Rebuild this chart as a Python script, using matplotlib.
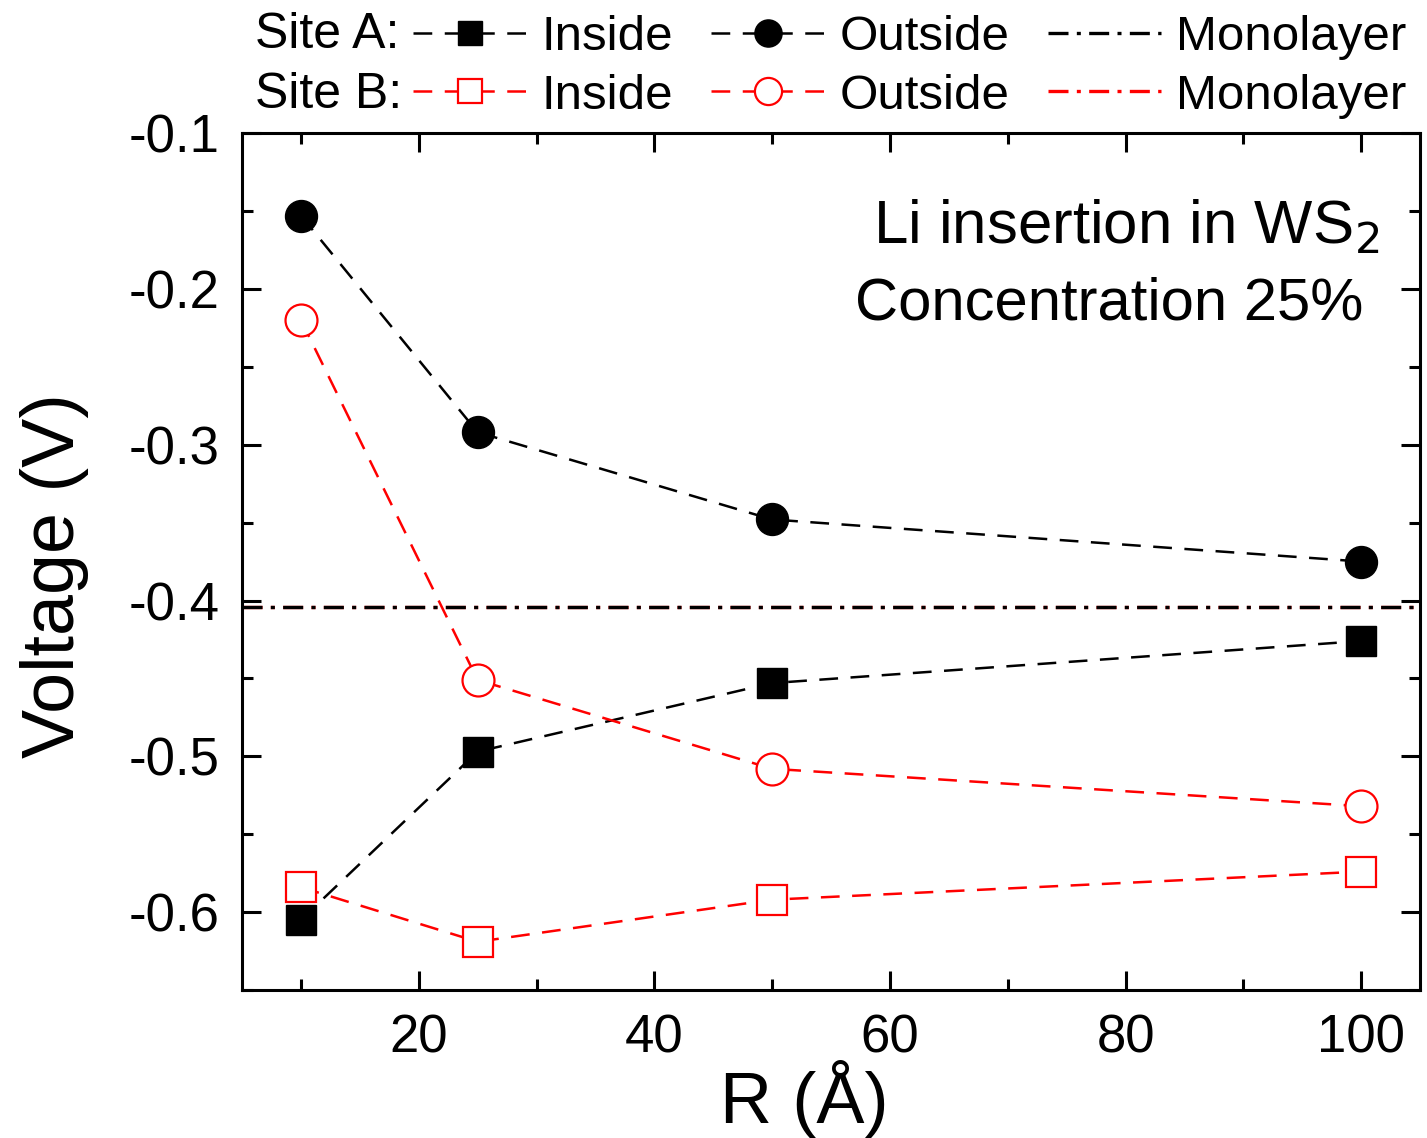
import numpy as np
import matplotlib.pyplot as plt

plt.rcParams['font.family'] = ['Liberation Sans', 'DejaVu Sans']

# radius R (Angstrom)
R = [10, 25, 50, 100]

# voltages (V)
a_inside = [-0.605, -0.497, -0.453, -0.426]
a_outside = [-0.153, -0.292, -0.348, -0.375]
b_inside = [-0.584, -0.619, -0.592, -0.574]
b_outside = [-0.220, -0.451, -0.508, -0.532]
a_mono = -0.404
b_mono = -0.404

fig = plt.figure(figsize=(14.27, 11.38), dpi=100)
ax = fig.add_axes([0.1696, 0.1300, 0.8255, 0.7531])

dash = (7.5, 5)
dashdot = (6, 2.5, 1.2, 2.5)

# red monolayer sits right under the black one
h_bm = ax.axhline(b_mono, color='red', lw=2.4, dashes=dashdot)
h_am = ax.axhline(a_mono, color='black', lw=2.4, dashes=dashdot)

h_ai, = ax.plot(R, a_inside, color='black', lw=1.8, dashes=dash,
                marker='s', ms=21, mfc='black', mec='black')
h_ao, = ax.plot(R, a_outside, color='black', lw=1.8, dashes=dash,
                marker='o', ms=23, mfc='black', mec='black')
h_bi, = ax.plot(R, b_inside, color='red', lw=1.8, dashes=dash,
                marker='s', ms=21, mfc='white', mec='red', mew=1.6)
h_bo, = ax.plot(R, b_outside, color='red', lw=1.8, dashes=dash,
                marker='o', ms=23, mfc='white', mec='red', mew=1.6)

ax.set_xlim(5, 105)
ax.set_ylim(-0.65, -0.1)
ax.set_xticks([20, 40, 60, 80, 100])
ax.set_xticks([10, 30, 50, 70, 90], minor=True)
ax.set_yticks([-0.6, -0.5, -0.4, -0.3, -0.2, -0.1])
ax.set_yticks([-0.65, -0.55, -0.45, -0.35, -0.25, -0.15], minor=True)
ax.set_yticklabels(['-0.6', '-0.5', '-0.4', '-0.3', '-0.2', '-0.1'])
ax.tick_params(which='both', direction='in', top=True, right=True,
               width=2.2, labelsize=38)
ax.tick_params(axis='y', pad=16)
ax.tick_params(axis='x', pad=17)
ax.tick_params(which='major', length=14)
ax.tick_params(which='minor', length=8)
for s in ax.spines.values():
    s.set_linewidth(2.2)

ax.set_xlabel('R (Å)', fontsize=52)
ax.xaxis.set_label_coords((804 - 242) / 1178, -0.082)
ax.set_ylabel('Voltage (V)', fontsize=53)
ax.yaxis.set_label_coords(-0.130, 0.484)

ax.text(0.965, 0.89, 'Li insertion in WS$_2$', transform=ax.transAxes,
        ha='right', va='center', fontsize=44.5)
ax.text(0.952, 0.80, 'Concentration 25%', transform=ax.transAxes,
        ha='right', va='center', fontsize=43)

handles = [h_ai, h_bi, h_ao, h_bo, h_am, h_bm]
labels = ['Inside', 'Inside', 'Outside', 'Outside', 'Monolayer', 'Monolayer']
fig.legend(handles, labels, ncol=3, loc='upper left',
           bbox_to_anchor=(0.2688, 1.013), frameon=False, fontsize=35.5,
           handlelength=2.3, handletextpad=0.3, columnspacing=0.78,
           labelspacing=0.28, borderpad=0.1, markerscale=0.85)
fig.text(255 / 1427, 1 - 35 / 1138, 'Site A:', fontsize=36, va='center')
fig.text(255 / 1427, 1 - 95 / 1138, 'Site B:', fontsize=36, va='center')

fig.savefig('out.png', dpi=100)
